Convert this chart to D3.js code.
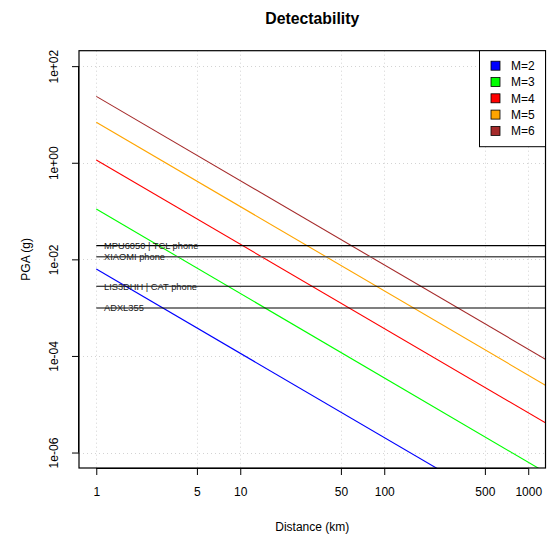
<!DOCTYPE html>
<html>
<head>
<meta charset="utf-8">
<script src="https://cdn.jsdelivr.net/npm/d3@7"></script>
<style>
  body { margin: 0; background: #fff; }
  text { font-family: "Liberation Sans", Arial, sans-serif; }
</style>
</head>
<body>
<div id="chart"></div>
<script>
// detectability chart: PGA vs distance for several magnitudes, with sensor noise floors

const magnitudes = ["M=2", "M=3", "M=4", "M=5", "M=6"];
const colors = ["#0000ff", "#00ff00", "#ff0000", "#ffa500", "#a52a2a"];
const distances = [1, 1400];
// PGA (g) at each distance
const pgaM2 = [0.0063, 2.05e-8];
const pgaM3 = [0.11, 3.5e-7];
const pgaM4 = [1.14, 3.7e-6];
const pgaM5 = [6.9, 2.23e-5];
const pgaM6 = [23.7, 7.7e-5];

const sensorNames = ["MPU6050 | TCL phone", "XIAOMI phone", "LIS3DHH | CAT phone", "ADXL355"];
const sensorLevels = [0.0192, 0.0113, 0.00277, 0.00098];
const sensorColors = ["#000", "#555", "#000", "#000"];

const xTicks = [1, 5, 10, 50, 100, 500, 1000];
const yTicks = [1e2, 1, 1e-2, 1e-4, 1e-6];
const yTickLabels = ["1e+02", "1e+00", "1e-02", "1e-04", "1e-06"];

let series = [pgaM2, pgaM3, pgaM4, pgaM5, pgaM6].map((vals, i) => ({
    name: magnitudes[i],
    color: colors[i],
    points: distances.map((d, j) => ({d: d, pga: vals[j]}))
}));

let width = 552, height = 538;
let plotL = 79, plotR = 545.5, plotT = 50.7, plotB = 468;

let svg = d3.select("#chart").append("svg")
    .attr("width", width)
    .attr("height", height);

let x = d3.scaleLog()
    .domain([Math.pow(10, -0.12), Math.pow(10, 3.12)])
    .range([plotL, plotR]);

let y = d3.scaleLog()
    .domain([Math.pow(10, -6.32), Math.pow(10, 2.32)])
    .range([plotB, plotT]);

svg.append("clipPath").attr("id", "plotclip")
    .append("rect")
    .attr("x", plotL).attr("y", plotT)
    .attr("width", plotR - plotL).attr("height", plotB - plotT);

// grid
let grid = svg.append("g").attr("stroke", "#d3d3d3").attr("stroke-dasharray", "1,3");
grid.selectAll(".vx").data(xTicks).enter().append("line")
    .attr("x1", d => Math.round(x(d)) + 0.5).attr("x2", d => Math.round(x(d)) + 0.5)
    .attr("y1", plotT).attr("y2", plotB);
grid.selectAll(".hy").data(yTicks).enter().append("line")
    .attr("y1", d => Math.round(y(d)) + 0.5).attr("y2", d => Math.round(y(d)) + 0.5)
    .attr("x1", plotL).attr("x2", plotR);

let plot = svg.append("g").attr("clip-path", "url(#plotclip)");

// magnitude lines
let line = d3.line()
    .x(d => x(d.d))
    .y(d => y(d.pga));

plot.selectAll(".mag").data(series).enter().append("path")
    .attr("class", "mag")
    .attr("d", d => line(d.points))
    .attr("fill", "none")
    .attr("stroke", d => d.color)
    .attr("stroke-width", 1.1);

// sensor floors
plot.selectAll(".sensor").data(sensorLevels).enter().append("line")
    .attr("x1", x(1)).attr("x2", plotR)
    .attr("y1", d => y(d)).attr("y2", d => y(d))
    .attr("stroke", (d, i) => sensorColors[i])
    .attr("stroke-width", (d, i) => i === 1 ? 1.4 : 1.1);

plot.selectAll(".sensorlabel").data(sensorLevels).enter().append("text")
    .attr("x", 104)
    .attr("y", d => y(d))
    .attr("dy", "0.35em")
    .attr("font-size", 9.3)
    .attr("fill", "#222")
    .text((d, i) => sensorNames[i]);

// box
svg.append("rect")
    .attr("x", plotL).attr("y", plotT)
    .attr("width", plotR - plotL).attr("height", plotB - plotT)
    .attr("fill", "none").attr("stroke", "#000").attr("stroke-width", 1.2);

// axes
let xAxis = d3.axisBottom(x).tickValues(xTicks).tickFormat(d3.format("d")).tickSize(7).tickPadding(12);
let xg = svg.append("g").attr("transform", "translate(0," + plotB + ")").call(xAxis);
xg.select(".domain").attr("d", "M" + x(1) + ",0.5H" + x(1000));
xg.selectAll("text").attr("font-size", 12).attr("font-family", "Liberation Sans, Arial, sans-serif").attr("fill", "#000");

let yAxis = d3.axisLeft(y).tickValues(yTicks).tickFormat((d, i) => yTickLabels[i]).tickSize(7);
let yg = svg.append("g").attr("transform", "translate(" + plotL + ",0)").call(yAxis);
yg.select(".domain").attr("d", "M-0.5," + y(1e-6) + "V" + y(1e2));
yg.selectAll(".tick text")
    .attr("font-size", 12)
    .attr("font-family", "Liberation Sans, Arial, sans-serif")
    .attr("fill", "#000")
    .attr("text-anchor", "middle")
    .attr("x", 0).attr("y", 0).attr("dy", 0)
    .attr("transform", "translate(-24.5,0) rotate(-90)")
    .attr("dominant-baseline", "middle");

// titles
svg.append("text")
    .attr("x", (plotL + plotR) / 2).attr("y", 23.5)
    .attr("text-anchor", "middle")
    .attr("font-size", 15.8).attr("font-weight", "bold")
    .text("Detectability");

svg.append("text")
    .attr("x", (plotL + plotR) / 2).attr("y", 531)
    .attr("text-anchor", "middle")
    .attr("font-size", 12)
    .text("Distance (km)");

svg.append("text")
    .attr("transform", "translate(30," + ((plotT + plotB) / 2) + ") rotate(-90)")
    .attr("text-anchor", "middle")
    .attr("font-size", 12)
    .text("PGA (g)");

// legend
let legend = svg.append("g");
legend.append("rect")
    .attr("x", 479.5).attr("y", plotT)
    .attr("width", plotR - 479.5).attr("height", 96)
    .attr("fill", "#fff").attr("stroke", "#000");

let items = legend.selectAll(".item").data(series).enter().append("g")
    .attr("transform", (d, i) => "translate(0," + (65.7 + i * 16.3) + ")");
items.append("rect")
    .attr("x", 491).attr("y", -4.5)
    .attr("width", 9).attr("height", 9)
    .attr("fill", d => d.color).attr("stroke", "#000").attr("stroke-width", 0.8);
items.append("text")
    .attr("x", 511).attr("y", 0).attr("dy", "0.35em")
    .attr("font-size", 12)
    .text(d => d.name);
</script>
</body>
</html>
